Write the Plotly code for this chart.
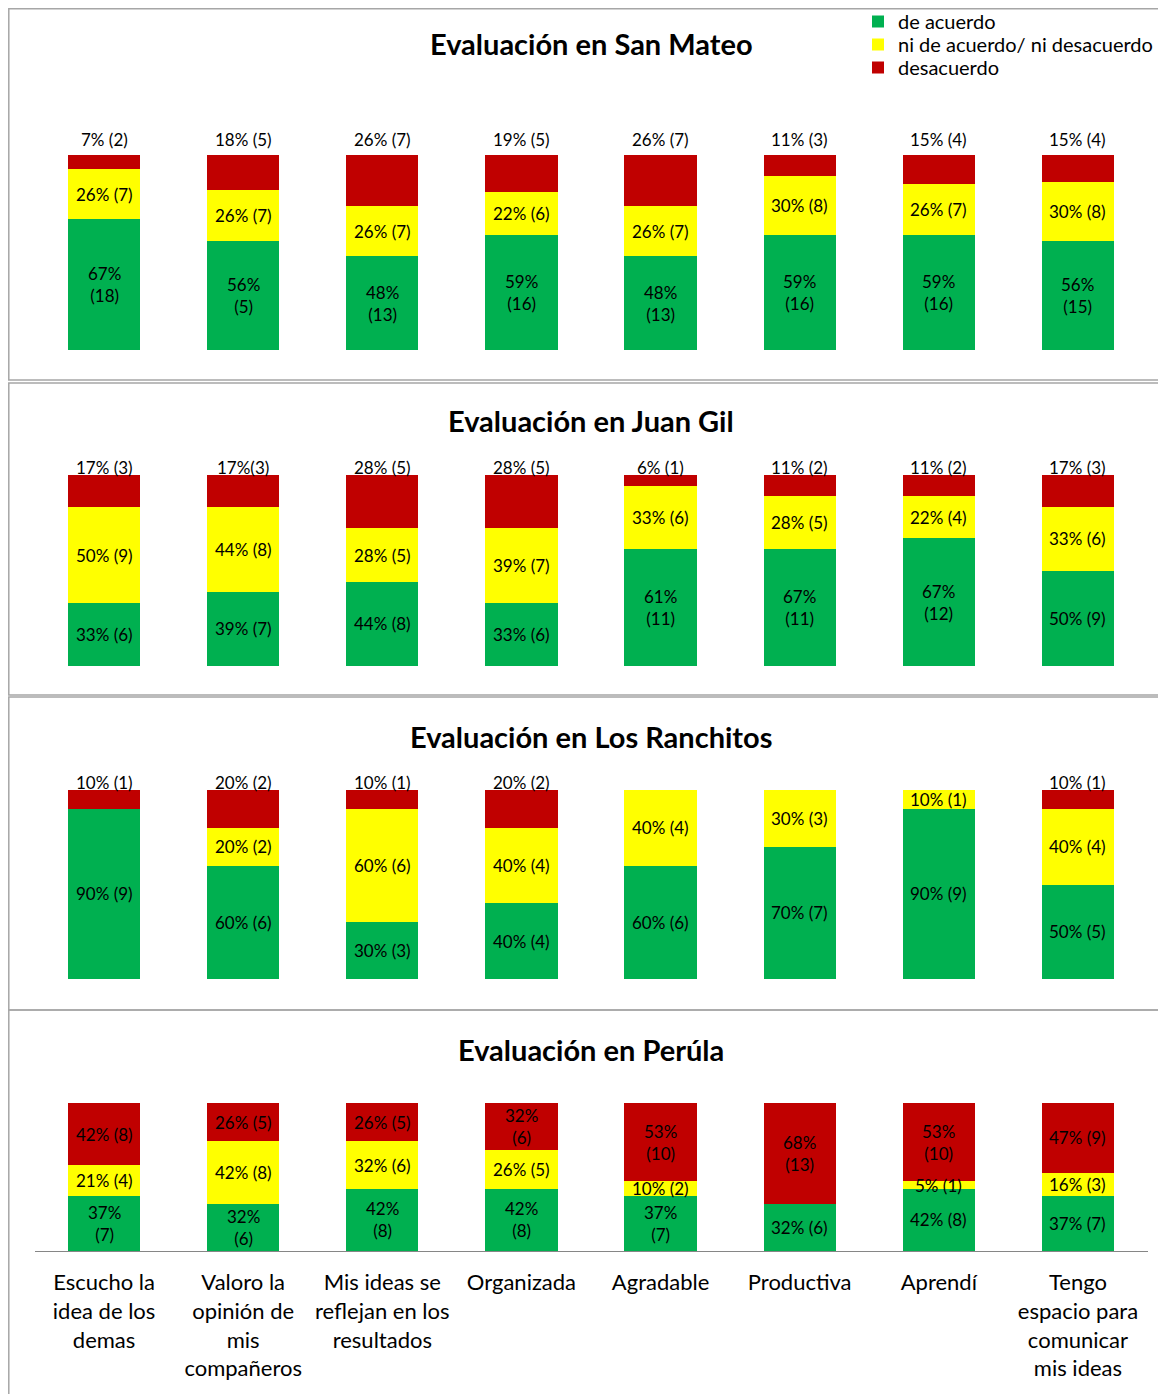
import plotly.graph_objects as go

OFF = 8                      # page offset of the plot inside the browser window
WIN_W, WIN_H = 1166, 1394
W, H = WIN_W - OFF, WIN_H - OFF
FONT = "Lato"

categories = ["Escucho la idea de los demas", "Valoro la opinión de mis compañeros",
              "Mis ideas se reflejan en los resultados", "Organizada", "Agradable",
              "Productiva", "Aprendí", "Tengo espacio para comunicar mis ideas"]
tick_labels = ["Escucho la<br>idea de los<br>demas", "Valoro la<br>opinión de<br>mis<br>compañeros",
               "Mis ideas se<br>reflejan en los<br>resultados", "Organizada", "Agradable",
               "Productiva", "Aprendí", "Tengo<br>espacio para<br>comunicar<br>mis ideas"]
series_names = ["de acuerdo", "ni de acuerdo/ ni desacuerdo", "desacuerdo"]
series_colors = ["#00B050", "#FFFF00", "#C00000"]
panel_titles = ["Evaluación en San Mateo", "Evaluación en Juan Gil",
                "Evaluación en Los Ranchitos", "Evaluación en Perúla"]

# San Mateo
sm_acuerdo = [67, 56, 48, 59, 48, 59, 59, 56]
sm_ni = [26, 26, 26, 22, 26, 30, 26, 30]
sm_desacuerdo = [7, 18, 26, 19, 26, 11, 15, 15]
sm_acuerdo_lbl = ["67%<br>(18)", "56%<br>(5)", "48%<br>(13)", "59%<br>(16)", "48%<br>(13)",
                  "59%<br>(16)", "59%<br>(16)", "56%<br>(15)"]
sm_ni_lbl = ["26% (7)", "26% (7)", "26% (7)", "22% (6)", "26% (7)", "30% (8)", "26% (7)", "30% (8)"]
sm_desacuerdo_lbl = ["7% (2)", "18% (5)", "26% (7)", "19% (5)", "26% (7)", "11% (3)", "15% (4)", "15% (4)"]

# Juan Gil
jg_acuerdo = [33, 39, 44, 33, 61, 61, 67, 50]
jg_ni = [50, 44, 28, 39, 33, 28, 22, 33]
jg_desacuerdo = [17, 17, 28, 28, 6, 11, 11, 17]
jg_acuerdo_lbl = ["33% (6)", "39% (7)", "44% (8)", "33% (6)", "61%<br>(11)", "67%<br>(11)",
                  "67%<br>(12)", "50% (9)"]
jg_ni_lbl = ["50% (9)", "44% (8)", "28% (5)", "39% (7)", "33% (6)", "28% (5)", "22% (4)", "33% (6)"]
jg_desacuerdo_lbl = ["17% (3)", "17%(3)", "28% (5)", "28% (5)", "6% (1)", "11% (2)", "11% (2)", "17% (3)"]

# Los Ranchitos
lr_acuerdo = [90, 60, 30, 40, 60, 70, 90, 50]
lr_ni = [0, 20, 60, 40, 40, 30, 10, 40]
lr_desacuerdo = [10, 20, 10, 20, 0, 0, 0, 10]
lr_acuerdo_lbl = ["90% (9)", "60% (6)", "30% (3)", "40% (4)", "60% (6)", "70% (7)", "90% (9)", "50% (5)"]
lr_ni_lbl = ["", "20% (2)", "60% (6)", "40% (4)", "40% (4)", "30% (3)", "10% (1)", "40% (4)"]
lr_desacuerdo_lbl = ["10% (1)", "20% (2)", "10% (1)", "20% (2)", "", "", "", "10% (1)"]

# Perúla
pe_acuerdo = [37, 32, 42, 42, 37, 32, 42, 37]
pe_ni = [21, 42, 32, 26, 10, 0, 5, 16]
pe_desacuerdo = [42, 26, 26, 32, 53, 68, 53, 47]
pe_acuerdo_lbl = ["37%<br>(7)", "32%<br>(6)", "42%<br>(8)", "42%<br>(8)", "37%<br>(7)",
                  "32% (6)", "42% (8)", "37% (7)"]
pe_ni_lbl = ["21% (4)", "42% (8)", "32% (6)", "26% (5)", "10% (2)", "", "5% (1)", "16% (3)"]
pe_desacuerdo_lbl = ["42% (8)", "26% (5)", "26% (5)", "32%<br>(6)", "53%<br>(10)", "68%<br>(13)",
                     "53%<br>(10)", "47% (9)"]

panels = [
    ([sm_acuerdo, sm_ni, sm_desacuerdo], [sm_acuerdo_lbl, sm_ni_lbl, sm_desacuerdo_lbl], True),
    ([jg_acuerdo, jg_ni, jg_desacuerdo], [jg_acuerdo_lbl, jg_ni_lbl, jg_desacuerdo_lbl], True),
    ([lr_acuerdo, lr_ni, lr_desacuerdo], [lr_acuerdo_lbl, lr_ni_lbl, lr_desacuerdo_lbl], True),
    ([pe_acuerdo, pe_ni, pe_desacuerdo], [pe_acuerdo_lbl, pe_ni_lbl, pe_desacuerdo_lbl], False),
]

# layout geometry (window pixels)
x_px = (34.5, 1147.5)
bar_px = [(155, 350), (475, 666), (790, 979), (1103, 1251)]
title_px = [43, 420, 736, 1049]
border_px = [(8.8, 380), (383, 695), (697, 1010), (1010, 1420)]
red_label_shift = [3, -5, -5, 0]
legend_px = [(858, 21.5), (858, 44.5), (858, 67.5)]
legend_ids = ["legend", "legend2", "legend3"]


def px(p):
    return (p - OFF) / W


def py(p):
    return 1 - (p - OFF) / H


fig = go.Figure()
annotations = []
shapes = []
layout_axes = {}

for i, (vals, lbls, red_above) in enumerate(panels):
    n = "" if i == 0 else str(i + 1)
    xa, ya = "x" + n, "y" + n
    for s in range(3):
        fig.add_trace(go.Bar(
            x=categories, y=vals[s], name=series_names[s],
            marker=dict(color=series_colors[s], line=dict(width=0)),
            xaxis=xa, yaxis=ya, showlegend=(i == 0), legend=legend_ids[s],
            legendgroup=series_names[s], hoverinfo="skip",
        ))
    for j, cat in enumerate(categories):
        base = 0
        for s in range(3):
            v = vals[s][j]
            t = lbls[s][j]
            if t:
                if s == 2 and red_above:
                    annotations.append(dict(x=cat, y=100, xref=xa, yref=ya, text=t,
                                            showarrow=False, yanchor="bottom",
                                            yshift=red_label_shift[i],
                                            font=dict(family=FONT, size=17, color="black")))
                else:
                    annotations.append(dict(x=cat, y=base + v / 2, xref=xa, yref=ya, text=t,
                                            showarrow=False, yanchor="middle",
                                            font=dict(family=FONT, size=17, color="black")))
            base += v
    b0, b1 = bar_px[i]
    layout_axes["xaxis" + n] = dict(
        domain=[px(x_px[0]), px(x_px[1])], range=[-0.5, 7.5], type="category",
        showticklabels=(i == 3), showline=(i == 3), linecolor="#868686", linewidth=1,
        ticks="", showgrid=False, zeroline=False, anchor=ya, automargin=False,
        tickmode="array", tickvals=categories, ticktext=tick_labels,
        ticklabelstandoff=12,
        tickfont=dict(family=FONT, size=22, color="black"),
    )
    layout_axes["yaxis" + n] = dict(
        domain=[py(b1), py(b0)], range=[0, 100], visible=False, anchor=xa, automargin=False,
    )
    annotations.append(dict(x=px(591), y=py(title_px[i]), xref="paper", yref="paper",
                            text="<b>" + panel_titles[i] + "</b>", showarrow=False,
                            xanchor="center", yanchor="middle",
                            font=dict(family=FONT, size=29, color="black")))
    t0, t1 = border_px[i]
    shapes.append(dict(type="rect", xref="paper", yref="paper",
                       x0=px(8.8), x1=1.02, y0=py(t1), y1=py(t0),
                       line=dict(color="#A6A6A6", width=1.5), fillcolor="rgba(0,0,0,0)"))

legends = {}
for k, lid in enumerate(legend_ids):
    lx, ly = legend_px[k]
    legends[lid] = dict(x=px(lx), y=py(ly), xanchor="left", yanchor="middle",
                        font=dict(family=FONT, size=20, color="black"),
                        bgcolor="rgba(0,0,0,0)", itemclick=False, itemdoubleclick=False)

fig.update_layout(
    width=W, height=H,
    margin=dict(l=0, r=0, t=0, b=0, autoexpand=False),
    paper_bgcolor="white", plot_bgcolor="rgba(0,0,0,0)",
    barmode="stack", bargap=0.48,
    showlegend=True,
    annotations=annotations, shapes=shapes,
    **legends,
    **layout_axes,
)

fig.write_html("out.html")
